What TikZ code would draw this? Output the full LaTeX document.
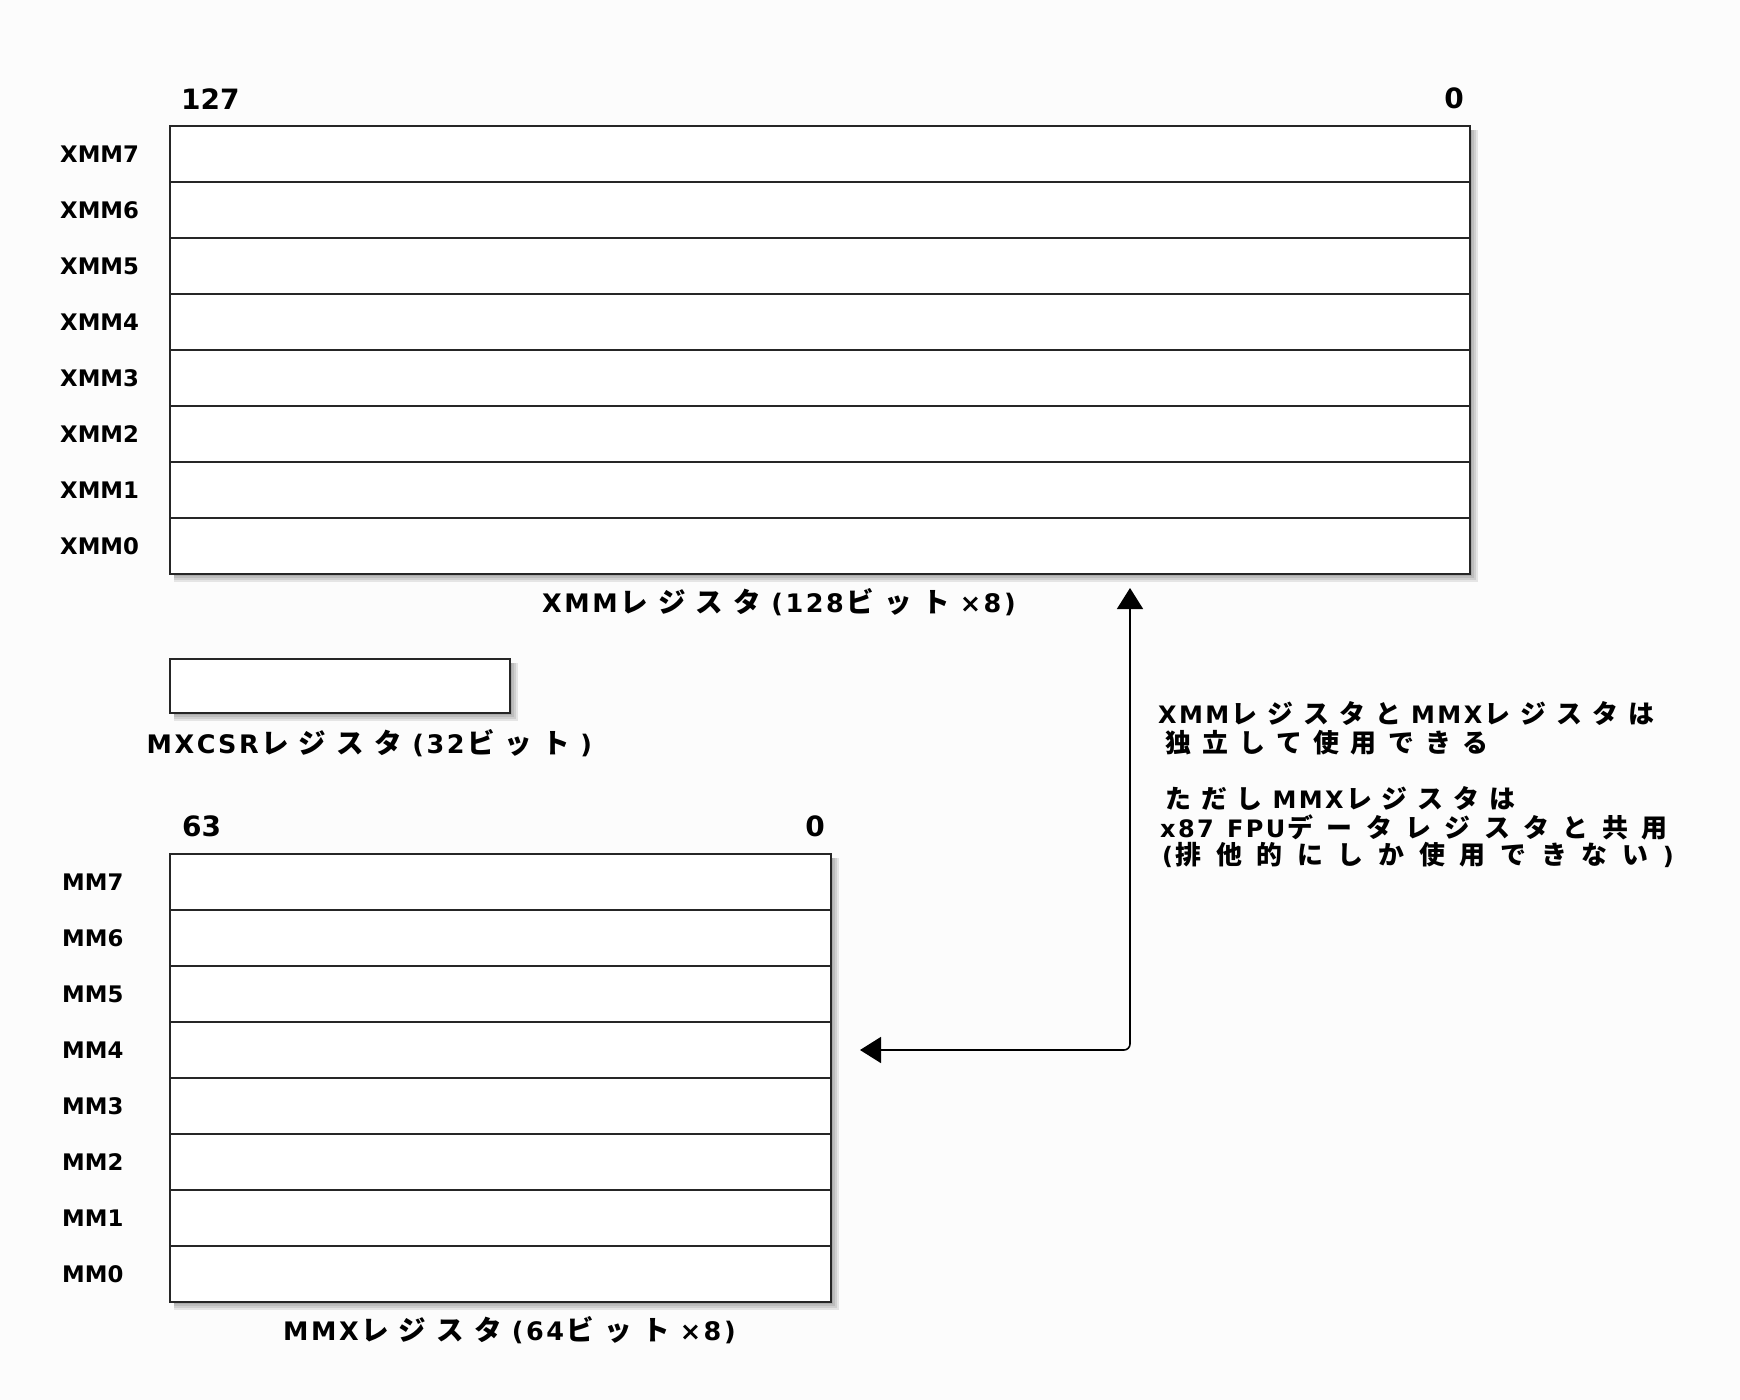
\documentclass[tikz,border=0pt]{standalone}
\usepackage{fontspec}
\setmainfont{DejaVu Sans}
\newfontfamily\jp{Noto Sans CJK JP}[Scale=1.08]
\usetikzlibrary{arrows.meta}
\makeatletter
\newcount\ls@n
\newdimen\ls@g
\newdimen\ls@w
\newdimen\ls@lat
\newif\ifls@cjk
\def\ls@loop#1{\ifx\relax#1\else\ls@char{#1}\expandafter\ls@loop\fi}
\def\ls@char#1{\ifnum`#1>"2000 {\jp#1}\hskip\ls@g\relax\global\advance\ls@n\@ne\global\ls@cjktrue
  \else#1\hskip\ls@lat\relax\global\ls@cjkfalse\fi}
% \FIT{width}{text}: Latin letters slightly spaced, Japanese characters spread so the line is about width wide
\def\FIT#1#2{\ls@lat=.1em\relax
 \setbox0\hbox{\ls@g=\z@\global\ls@n\z@\ls@loop#2\relax}%
 \ifls@cjk\global\advance\ls@n\m@ne\fi
 \ls@w=#1\relax\advance\ls@w-\wd0
 \divide\ls@w\ls@n \ls@g=\ls@w
 \ls@loop#2\relax}
\makeatother
\begin{document}
\begin{tikzpicture}[x=1pt,y=-1pt,
 regbox/.style={draw=black!85, fill=white, line width=2pt, minimum height=56pt, inner sep=0pt, outer sep=0pt, anchor=north west},
 lbltxt/.style={font=\bfseries\fontsize{22.8}{27}\selectfont, anchor=west, inner sep=0pt},
 numtxt/.style={font=\bfseries\fontsize{28}{33}\selectfont, inner sep=0pt},
 captxt/.style={font=\bfseries\fontsize{25.5}{30}\selectfont, anchor=base west, inner sep=0pt},
 notetxt/.style={font=\bfseries\fontsize{24}{28}\selectfont, anchor=base west, inner sep=0pt},
 shadlayer/.style={black, opacity=0.09},
 arrtip/.tip={Triangle[length=21pt,width=26pt]}]
\fill[white!99!black] (0,0) rectangle (1740,1400);
\useasboundingbox (0,0) rectangle (1740,1400);
% shadows
\foreach \d in {2,4,6,8} {
  \fill[shadlayer] (174,130) rectangle (1470+\d,574+\d);
  \fill[shadlayer] (174,663) rectangle (510+\d,713+\d);
  \fill[shadlayer] (174,858) rectangle (831+\d,1302+\d);
}
% XMM registers
\foreach \i in {0,...,7} {
  \node[regbox, minimum width=1300pt] (xmm\i) at (170,{126+56*(7-\i)}) {};
  \node[lbltxt] (lx\i) at (60,{154+56*(7-\i)}) {XMM\i};
}
\node[numtxt, anchor=base west] (n127) at (181,109) {127};
\node[numtxt, anchor=base east] (nx0) at (1464,108) {0};
\node[captxt] (xcap) at (542,612) {\FIT{476pt}{XMMレジスタ(128ビット×8)}};
% MXCSR
\node[regbox, minimum width=340pt, minimum height=54pt] (mxcsr) at (170,659) {};
\node[captxt] (mcap) at (146.5,753) {\FIT{448pt}{MXCSRレジスタ(32ビット)}};
% MMX registers
\foreach \i in {0,...,7} {
  \node[regbox, minimum width=661pt] (mm\i) at (170,{854+56*(7-\i)}) {};
  \node[lbltxt] (lm\i) at (62,{882+56*(7-\i)}) {MM\i};
}
\node[numtxt, anchor=base west] (n63) at (182,836) {63};
\node[numtxt, anchor=base east] (nm0) at (825,836) {0};
\node[captxt] (mmcap) at (283,1340) {\FIT{455pt}{MMXレジスタ(64ビット×8)}};
% note
\node[notetxt] (t1) at (1158,723) {\FIT{496pt}{XMMレジスタとMMXレジスタは}};
\node[notetxt] (t2) at (1165,752) {\FIT{323pt}{独立して使用できる}};
\node[notetxt] (t3) at (1165,808) {\FIT{350pt}{ただしMMXレジスタは}};
\node[notetxt] (t4) at (1160,837) {\FIT{507pt}{x87~FPUデータレジスタと共用}};
\node[notetxt] (t5) at (1162,864) {\FIT{514pt}{(排他的にしか使用できない)}};
% arrow
\coordinate (ta) at (1130,588);
\coordinate (tb) at (860,1050);
\draw[arrtip-arrtip, line width=1.6pt, rounded corners=6pt] (ta) |- (tb);
\end{tikzpicture}
\end{document}
